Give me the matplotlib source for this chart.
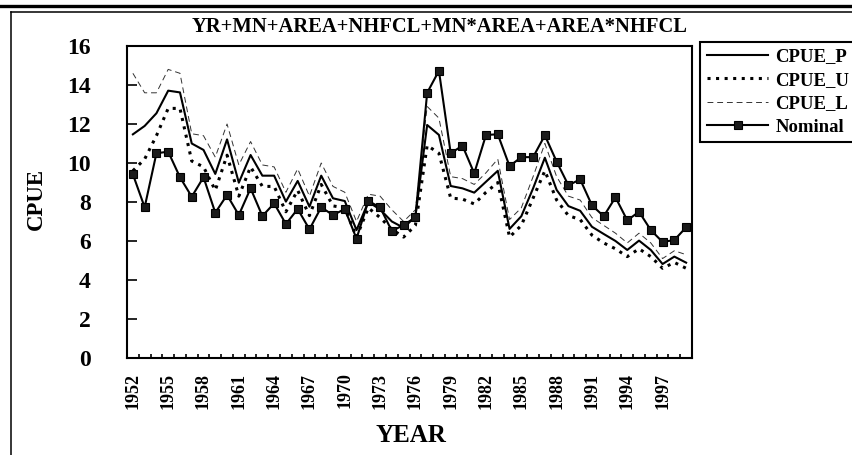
import numpy as np
import matplotlib
matplotlib.use("Agg")
import matplotlib.pyplot as plt
from matplotlib.lines import Line2D

plt.rcParams['font.family'] = ['Liberation Serif', 'DejaVu Serif']
plt.rcParams['font.weight'] = 'bold'

years = list(range(1952, 2000))

cpue_p = [11.47, 11.9, 12.55, 13.71, 13.62, 11.0, 10.67, 9.44, 11.21, 8.99,
          10.41, 9.35, 9.35, 8.02, 9.08, 7.76, 9.35, 8.19, 8.05, 6.56,
          8.0, 7.62, 7.0, 6.68, 7.25, 11.95, 11.44, 8.82, 8.7, 8.48,
          9.04, 9.6, 6.62, 7.27, 8.7, 10.27, 8.62, 7.79, 7.55, 6.73,
          6.36, 6.0, 5.54, 6.02, 5.54, 4.82, 5.2, 4.89]
cpue_u = [9.6, 10.2, 11.4, 12.8, 12.8, 10.1, 9.8, 8.6, 10.4, 8.3,
          9.8, 8.8, 8.8, 7.5, 8.6, 7.3, 8.9, 7.8, 7.7, 6.2,
          7.7, 7.2, 6.6, 6.2, 6.8, 10.9, 10.5, 8.2, 8.15, 7.9,
          8.5, 9.0, 6.2, 6.8, 8.2, 9.6, 8.1, 7.3, 7.1, 6.3,
          5.9, 5.6, 5.2, 5.6, 5.2, 4.6, 4.9, 4.6]
cpue_l = [14.6, 13.6, 13.6, 14.8, 14.6, 11.5, 11.4, 10.3, 12.0, 9.9,
          11.1, 9.9, 9.8, 8.5, 9.7, 8.3, 10.0, 8.8, 8.5, 7.0,
          8.4, 8.3, 7.6, 7.0, 7.6, 12.9, 12.3, 9.3, 9.2, 8.9,
          9.5, 10.2, 7.1, 7.7, 9.3, 11.0, 9.3, 8.3, 8.1, 7.2,
          6.8, 6.4, 5.9, 6.4, 5.9, 5.1, 5.5, 5.3]
nominal = [9.42, 7.73, 10.5, 10.58, 9.27, 8.27, 9.27, 7.45, 8.36, 7.33,
           8.7, 7.28, 7.93, 6.87, 7.64, 6.6, 7.73, 7.33, 7.64, 6.12,
           8.05, 7.73, 6.51, 6.82, 7.21, 13.6, 14.73, 10.5, 10.89, 9.47,
           11.44, 11.47, 9.84, 10.3, 10.3, 11.42, 10.07, 8.86, 9.16, 7.83,
           7.27, 8.24, 7.06, 7.5, 6.56, 5.95, 6.05, 6.7]

W, H = 852, 455
fig = plt.figure(figsize=(W / 100, H / 100), dpi=100)
ax = fig.add_axes([127 / W, 1 - 358 / H, 565 / W, 312 / H])

x = np.arange(len(years))
ax.plot(x, cpue_p, color='black', lw=1.5, label='CPUE_P')
ax.plot(x, cpue_u, color='black', lw=2.2, ls=(0, (1, 1.8)), label='CPUE_U')
ax.plot(x, cpue_l, color='#333333', lw=0.7, ls=(0, (6, 4)), label='CPUE_L')
ax.plot(x, nominal, color='black', lw=1.5, marker='s', ms=6,
        mfc='#1a1a1a', mec='black', mew=0.8, label='Nominal')

ax.set_xlim(-0.5, len(years) - 0.5)
ax.set_ylim(0, 16)
ax.set_yticks(np.arange(0, 17, 2))
ax.tick_params(axis='y', direction='in', length=7, width=1.2, pad=26,
               labelsize=17)
for lab in ax.get_yticklabels():
    lab.set_fontweight('bold')

# tick marks on category boundaries, labels every 3rd year at centres
ax.set_xticks(np.arange(-0.5, len(years), 1))
ax.set_xticklabels([])
ax.tick_params(axis='x', which='major', direction='in', length=3.2, width=1.2)
ax.set_xticks(x[::3], minor=True)
ax.set_xticklabels([str(y) for y in years[::3]], minor=True, rotation=90,
                   fontsize=13, fontweight='bold')
ax.tick_params(axis='x', which='minor', length=0, pad=10.5)

for s in ax.spines.values():
    s.set_linewidth(1.5)

fig.text(440 / W, 1 - 27 / H, 'YR+MN+AREA+NHFCL+MN*AREA+AREA*NHFCL',
         ha='center', va='center', fontsize=14.8, fontweight='bold')
fig.text(411 / W, 1 - 435 / H, 'YEAR', ha='center', va='center',
         fontsize=18, fontweight='bold')
fig.text(36 / W, 1 - 199 / H, 'CPUE', ha='center', va='center',
         rotation=90, fontsize=16.5, fontweight='bold')

leg = ax.legend(loc='upper left', bbox_to_anchor=(700 / W, 1 - 41.7 / H),
                bbox_transform=fig.transFigure, borderaxespad=0,
                fontsize=13.5, handlelength=3.3, handletextpad=0.37,
                labelspacing=0.34, borderpad=0.35, fancybox=False,
                framealpha=1, edgecolor='black')
leg.get_frame().set_linewidth(1.5)
for t in leg.get_texts():
    t.set_fontweight('bold')

# chart area border and the rule above it
fig.add_artist(Line2D([0, 1], [1 - 5.5 / H, 1 - 5.5 / H], color='black',
                      lw=2.4, transform=fig.transFigure))
fig.add_artist(Line2D([10.5 / W, 1], [1 - 12 / H, 1 - 12 / H], color='black',
                      lw=1.1, transform=fig.transFigure))
fig.add_artist(Line2D([10.5 / W, 10.5 / W], [0, 1 - 12 / H], color='black',
                      lw=1.1, transform=fig.transFigure))

fig.savefig('out.png', dpi=100)
